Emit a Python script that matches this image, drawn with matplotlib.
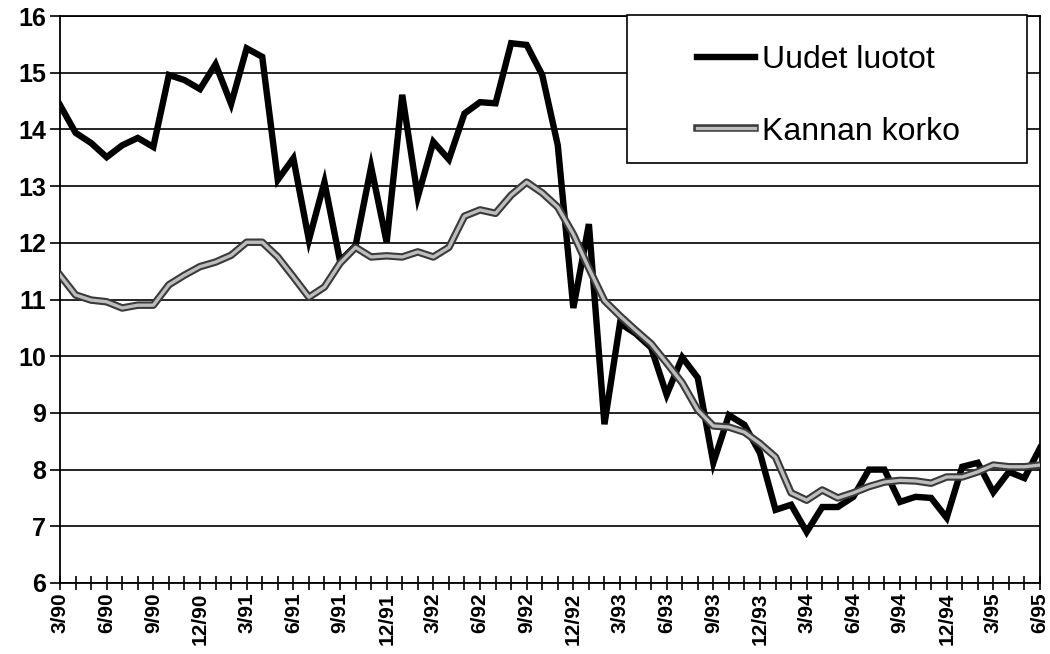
import matplotlib
matplotlib.use('Agg')
import matplotlib.pyplot as plt
import matplotlib.patheffects as pe
from matplotlib.patches import Rectangle

# monthly series 3/90 .. 6/95
uudet_luotot = [14.43, 13.94, 13.76, 13.51, 13.72, 13.85, 13.69, 14.96, 14.87, 14.71,
                15.15, 14.45, 15.43, 15.28, 13.11, 13.49, 12.05, 13.07, 11.68, 11.95,
                13.34, 12.01, 14.61, 12.81, 13.78, 13.47, 14.28, 14.48, 14.46, 15.52,
                15.49, 14.96, 13.72, 10.85, 12.33, 8.80, 10.58, 10.40, 10.15, 9.32,
                9.98, 9.62, 8.12, 8.96, 8.79, 8.29, 7.29, 7.38, 6.90, 7.34,
                7.34, 7.52, 8.00, 8.00, 7.43, 7.52, 7.50, 7.15, 8.05, 8.12,
                7.60, 7.96, 7.85, 8.38]

kannan_korko = [11.43, 11.08, 10.99, 10.96, 10.85, 10.90, 10.90, 11.26, 11.43, 11.58,
                11.66, 11.78, 12.01, 12.01, 11.75, 11.40, 11.04, 11.22, 11.64, 11.92,
                11.75, 11.77, 11.75, 11.84, 11.75, 11.92, 12.47, 12.58, 12.52, 12.84,
                13.07, 12.88, 12.63, 12.15, 11.55, 10.98, 10.71, 10.46, 10.22, 9.88,
                9.53, 9.05, 8.77, 8.75, 8.66, 8.46, 8.22, 7.59, 7.46, 7.64,
                7.50, 7.59, 7.70, 7.78, 7.81, 7.80, 7.76, 7.87, 7.87, 7.96,
                8.08, 8.05, 8.05, 8.08]

tick_labels = ['3/90', '6/90', '9/90', '12/90', '3/91', '6/91', '9/91', '12/91',
               '3/92', '6/92', '9/92', '12/92', '3/93', '6/93', '9/93', '12/93',
               '3/94', '6/94', '9/94', '12/94', '3/95', '6/95']

plt.rcParams['font.family'] = ['Liberation Sans', 'DejaVu Sans']

fig = plt.figure(figsize=(10.5, 6.54), dpi=100)
ax = fig.add_axes([60 / 1050, 1 - 583 / 654, 980 / 1050, 567 / 654])

x = list(range(len(uudet_luotot)))
ax.plot(x, uudet_luotot, color='black', linewidth=4.6, solid_joinstyle='miter',
        label='Uudet luotot', zorder=3)
ax.plot(x, kannan_korko, color='#bdbdbd', linewidth=2.4, label='Kannan korko', zorder=3,
        path_effects=[pe.Stroke(linewidth=5.4, foreground='#3a3a3a'), pe.Normal()])

ax.set_xlim(0, len(x) - 1)
ax.set_ylim(6, 16)
ax.set_yticks(range(6, 17))
ax.set_xticks(x, minor=True)
ax.set_xticks(x[::3])
ax.set_xticklabels(tick_labels, rotation=90, fontsize=15, fontweight='bold')
ax.tick_params(axis='x', which='both', direction='inout', length=10, width=1.2, pad=2)
ax.tick_params(axis='y', direction='out', length=7, width=1.2, pad=3)
for lab in ax.get_yticklabels():
    lab.set_fontsize(18)
    lab.set_fontweight('bold')

ax.yaxis.grid(True, color='black', linewidth=1.2)
ax.set_axisbelow(True)
for s in ax.spines.values():
    s.set_linewidth(1.3)
    s.set_color('black')

# legend box
box = Rectangle((627 / 1050, 1 - 163 / 654), 400 / 1050, 148 / 654,
                transform=fig.transFigure, facecolor='white', edgecolor='black',
                linewidth=1.2, zorder=4, clip_on=False)
ax.add_patch(box)
leg = ax.legend(loc='upper left', bbox_to_anchor=(697 / 1050, 1 - 45 / 654),
                bbox_transform=fig.transFigure, frameon=False, fontsize=23,
                handlelength=1.8, handletextpad=0.25, labelspacing=1.3,
                borderpad=0, borderaxespad=0)
leg.set_zorder(5)

plt.savefig('out.png', dpi=100)
